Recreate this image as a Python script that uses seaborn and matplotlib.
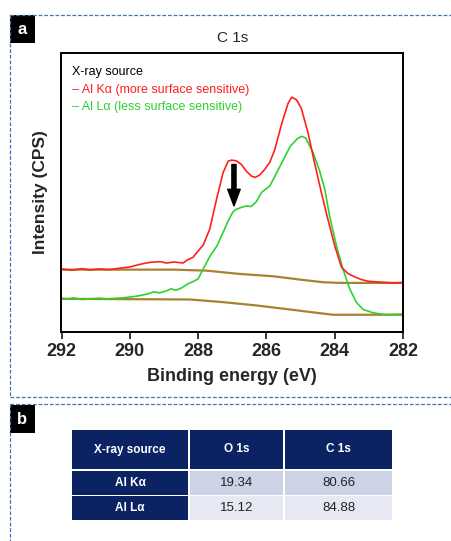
import numpy as np
import pandas as pd
import matplotlib
matplotlib.use("Agg")
import matplotlib.pyplot as plt
from matplotlib.patches import Rectangle
import seaborn as sns

# ---- data (binding energy in eV, intensity in arbitrary CPS units) ----
ka_energy = [292.0, 291.7, 291.4, 291.17, 290.9, 290.6, 290.39, 290.0, 289.7, 289.41, 289.1, 288.93,
             288.7, 288.44, 288.3, 288.15, 288.05, 287.85, 287.66,
             287.46, 287.27, 287.12, 287.02, 286.88, 286.73, 286.59, 286.44, 286.33, 286.2, 286.05,
             285.9, 285.76, 285.56, 285.37, 285.26, 285.12, 284.98, 284.78, 284.59, 284.39, 284.2, 284.0,
             283.8, 283.61, 283.41, 283.22, 283.02, 282.63, 282.3, 282.0]
ka_int = [190, 186, 191, 187, 190, 188, 191, 196, 204, 210, 212, 208,
          211, 208, 218, 225, 238, 262, 310,
          400, 480, 515, 518, 516, 505, 485, 470, 466, 473, 490,
          512, 548, 625, 688, 708, 700, 675, 600, 510, 420, 340, 260,
          195, 176, 166, 158, 153, 150, 148, 149]
la_energy = [292.0, 291.8, 291.66, 291.4, 291.17, 290.9, 290.68, 290.2, 289.8, 289.5, 289.3,
             289.12, 288.93, 288.8, 288.65, 288.5, 288.3, 288.15, 288.0, 287.85, 287.65,
             287.45, 287.27, 287.12, 286.98, 286.88, 286.75, 286.58, 286.45, 286.3, 286.14,
             285.9, 285.7, 285.5, 285.3, 285.1, 284.97, 284.85,
             284.63, 284.44, 284.29, 284.15, 283.95, 283.76, 283.56, 283.37, 283.17, 282.88, 282.49,
             282.0]
la_int = [102, 99, 103, 98, 100, 102, 100, 103, 108, 114, 121,
          118, 124, 130, 126, 132, 145, 152, 160, 190, 229,
          259, 300, 335, 362, 370, 375, 380, 378, 392, 421,
          440, 480, 520, 560, 582, 590, 585,
          540, 485, 430, 350, 260, 190, 130, 90, 68, 58, 52, 54]
bg_ka_energy = [292.0, 288.73, 287.76, 286.78, 285.8, 285.02, 284.34, 283.85, 282.0]
bg_ka_int = [188, 188, 185, 175, 168, 158, 150, 148, 148]
bg_la_energy = [292.0, 288.24, 287.27, 286.29, 285.32, 284.54, 284.05, 282.0]
bg_la_int = [100, 98, 90, 80, 68, 58, 52, 52]

table_cols = ["X-ray source", "O 1s", "C 1s"]
table_rows = ["Al K\u03b1", "Al L\u03b1"]
o1s_values = ["19.34", "15.12"]
c1s_values = ["80.66", "84.88"]

# ---- style ----
sns.set_style("ticks")
plt.rcParams["font.family"] = ["Liberation Sans", "DejaVu Sans"]

RED = "#ff1f1f"
GREEN = "#2fd12f"
BROWN = "#a8832f"
NAVY = "#0b2363"
DASH = "#4a6fb5"

fig = plt.figure(figsize=(4.52, 5.41), dpi=100)
W, H = 452, 541

ax = fig.add_axes([61.5 / W, 1 - 332 / H, (403 - 61.5) / W, (332 - 53) / H])

df_bg1 = pd.DataFrame({"E": bg_ka_energy, "I": bg_ka_int})
df_bg2 = pd.DataFrame({"E": bg_la_energy, "I": bg_la_int})
df_ka = pd.DataFrame({"E": ka_energy, "I": ka_int})
df_la = pd.DataFrame({"E": la_energy, "I": la_int})

sns.lineplot(data=df_bg1, x="E", y="I", ax=ax, color=BROWN, lw=1.6, sort=False)
sns.lineplot(data=df_bg2, x="E", y="I", ax=ax, color=BROWN, lw=1.6, sort=False)
sns.lineplot(data=df_la, x="E", y="I", ax=ax, color=GREEN, lw=1.2, sort=False)
sns.lineplot(data=df_ka, x="E", y="I", ax=ax, color=RED, lw=1.2, sort=False)

ax.set_xlim(292, 282)
ax.set_ylim(0, 841)
ax.set_xticks([292, 290, 288, 286, 284, 282])
ax.set_yticks([])
ax.tick_params(axis="x", direction="out", length=5, width=1.3, labelsize=13, pad=3)
for lab in ax.get_xticklabels():
    lab.set_fontweight("bold")
for s in ax.spines.values():
    s.set_linewidth(1.4)
    s.set_color("black")
ax.set_xlabel("Binding energy (eV)", fontsize=13, fontweight="bold", labelpad=6)
ax.set_ylabel("Intensity (CPS)", fontsize=12.5, fontweight="bold", labelpad=10)
ax.set_title("C 1s", fontsize=11, pad=8)

ax.annotate("", xy=(286.95, 380), xytext=(286.95, 505),
            arrowprops=dict(facecolor="black", edgecolor="black", width=3, headwidth=9,
                            headlength=12, shrink=0))

ax.text(0.031, 0.932, "X-ray source", transform=ax.transAxes, fontsize=9, color="black", va="center")
ax.text(0.031, 0.867, "\u2013 Al K\u03b1 (more surface sensitive)", transform=ax.transAxes,
        fontsize=9, color=RED, va="center")
ax.text(0.031, 0.806, "\u2013 Al L\u03b1 (less surface sensitive)", transform=ax.transAxes,
        fontsize=9, color=GREEN, va="center")

# ---- overlay in pixel coordinates for panel frames, labels and table ----
ov = fig.add_axes([0, 0, 1, 1], zorder=-1)
ov.set_xlim(0, W)
ov.set_ylim(H, 0)
ov.axis("off")
ov.patch.set_alpha(0)

dash_kw = dict(color=DASH, lw=0.9, ls=(0, (3, 1.5)))
ov.plot([10, W], [15, 15], **dash_kw)
ov.plot([10, W], [397, 397], **dash_kw)
ov.plot([10, W], [404, 404], **dash_kw)
ov.plot([10, 10], [15, 397], **dash_kw)
ov.plot([10, 10], [404, H], **dash_kw)

for y0, lab in [(15, "a"), (405, "b")]:
    ov.add_patch(Rectangle((10, y0), 25, 28, facecolor="black", edgecolor="none"))
    ov.text(22.5, y0 + 14, lab, color="white", fontsize=12, fontweight="bold", ha="center", va="center")

col_x = [71, 189, 284, 393]
row_y = [430, 469, 471, 495, 496, 520]
gap = 0.8
# header
for j, name in enumerate(table_cols):
    x0, x1 = col_x[j], col_x[j + 1]
    ov.add_patch(Rectangle((x0 + gap, row_y[0]), x1 - x0 - 2 * gap, row_y[1] - row_y[0],
                           facecolor=NAVY, edgecolor="none"))
    ov.text((x0 + x1) / 2, (row_y[0] + row_y[1]) / 2, name, color="white", fontsize=8.5,
            fontweight="bold", ha="center", va="center")
fills = ["#cdd3e7", "#e6e9f4"]
for i, rname in enumerate(table_rows):
    ya, yb = row_y[2 + 2 * i], row_y[3 + 2 * i]
    vals = [rname, o1s_values[i], c1s_values[i]]
    for j, v in enumerate(vals):
        x0, x1 = col_x[j], col_x[j + 1]
        fc = NAVY if j == 0 else fills[i]
        ov.add_patch(Rectangle((x0 + gap, ya), x1 - x0 - 2 * gap, yb - ya, facecolor=fc, edgecolor="none"))
        ov.text((x0 + x1) / 2, (ya + yb) / 2, v, color="white" if j == 0 else "#222222",
                fontsize=8.5 if j == 0 else 9.5, fontweight="bold" if j == 0 else "normal",
                ha="center", va="center")

fig.savefig("out.png", dpi=100)
